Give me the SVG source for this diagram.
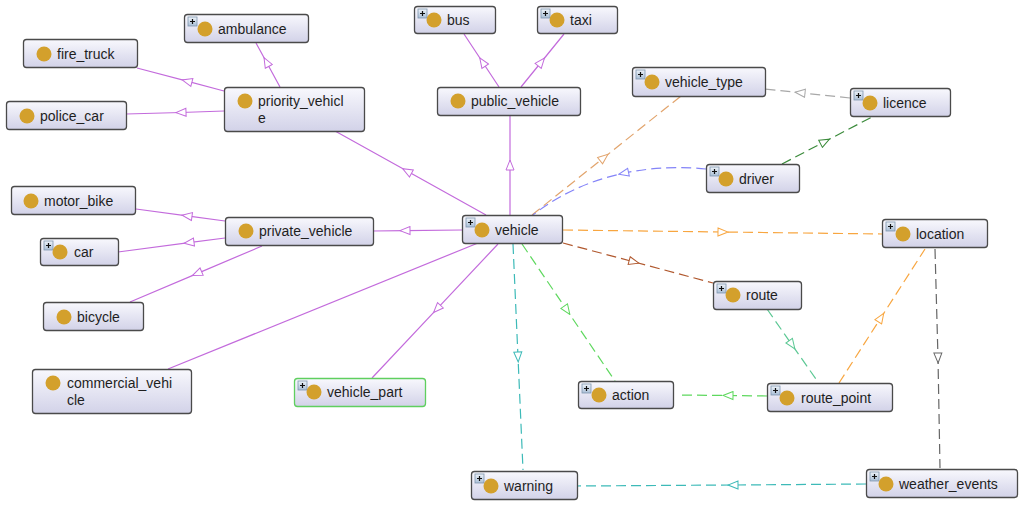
<svg xmlns="http://www.w3.org/2000/svg" width="1024" height="505" viewBox="0 0 1024 505">
<defs>
<linearGradient id="ng" x1="0" y1="0" x2="0" y2="1"><stop offset="0" stop-color="#f8f8fd"/><stop offset="1" stop-color="#d2d2e8"/></linearGradient>
<linearGradient id="pg" x1="0" y1="0" x2="0" y2="1"><stop offset="0" stop-color="#eef3f9"/><stop offset="1" stop-color="#a9bfd6"/></linearGradient>
<symbol id="plus" overflow="visible"><rect x="0" y="0" width="9" height="9" fill="url(#pg)" stroke="#7f97ae" stroke-width="0.8"/><path d="M2,4.5H7M4.5,2V7" stroke="#111" stroke-width="1.2"/></symbol>
<marker id="m-purple" viewBox="0 0 12 10" refX="6" refY="5" markerWidth="12" markerHeight="10" markerUnits="userSpaceOnUse" orient="auto"><path d="M1,1L11,5L1,9Z" fill="#fff" stroke="#c36bdc" stroke-width="1"/></marker>
<marker id="m-tan" viewBox="0 0 12 10" refX="6" refY="5" markerWidth="12" markerHeight="10" markerUnits="userSpaceOnUse" orient="auto"><path d="M1,1L11,5L1,9Z" fill="#fff" stroke="#e2a46c" stroke-width="1"/></marker>
<marker id="m-grey" viewBox="0 0 12 10" refX="6" refY="5" markerWidth="12" markerHeight="10" markerUnits="userSpaceOnUse" orient="auto"><path d="M1,1L11,5L1,9Z" fill="#fff" stroke="#a8a8a8" stroke-width="1"/></marker>
<marker id="m-dgreen" viewBox="0 0 12 10" refX="6" refY="5" markerWidth="12" markerHeight="10" markerUnits="userSpaceOnUse" orient="auto"><path d="M1,1L11,5L1,9Z" fill="#fff" stroke="#3a8a3a" stroke-width="1"/></marker>
<marker id="m-blue" viewBox="0 0 12 10" refX="6" refY="5" markerWidth="12" markerHeight="10" markerUnits="userSpaceOnUse" orient="auto"><path d="M1,1L11,5L1,9Z" fill="#fff" stroke="#8484f8" stroke-width="1"/></marker>
<marker id="m-orange" viewBox="0 0 12 10" refX="6" refY="5" markerWidth="12" markerHeight="10" markerUnits="userSpaceOnUse" orient="auto"><path d="M1,1L11,5L1,9Z" fill="#fff" stroke="#f8a640" stroke-width="1"/></marker>
<marker id="m-brown" viewBox="0 0 12 10" refX="6" refY="5" markerWidth="12" markerHeight="10" markerUnits="userSpaceOnUse" orient="auto"><path d="M1,1L11,5L1,9Z" fill="#fff" stroke="#b0582e" stroke-width="1"/></marker>
<marker id="m-lgreen" viewBox="0 0 12 10" refX="6" refY="5" markerWidth="12" markerHeight="10" markerUnits="userSpaceOnUse" orient="auto"><path d="M1,1L11,5L1,9Z" fill="#fff" stroke="#5ed85e" stroke-width="1"/></marker>
<marker id="m-teal" viewBox="0 0 12 10" refX="6" refY="5" markerWidth="12" markerHeight="10" markerUnits="userSpaceOnUse" orient="auto"><path d="M1,1L11,5L1,9Z" fill="#fff" stroke="#3dbab8" stroke-width="1"/></marker>
<marker id="m-sea" viewBox="0 0 12 10" refX="6" refY="5" markerWidth="12" markerHeight="10" markerUnits="userSpaceOnUse" orient="auto"><path d="M1,1L11,5L1,9Z" fill="#fff" stroke="#5cc894" stroke-width="1"/></marker>
<marker id="m-dgrey" viewBox="0 0 12 10" refX="6" refY="5" markerWidth="12" markerHeight="10" markerUnits="userSpaceOnUse" orient="auto"><path d="M1,1L11,5L1,9Z" fill="#fff" stroke="#666" stroke-width="1"/></marker>
</defs>
<style>
.box{fill:url(#ng);stroke:#4a4a4a;stroke-width:1.3}
.box.sel{stroke:#5fcf5f}
.dot{fill:#d3a02c}
text{font-family:"Liberation Sans",Arial,sans-serif;font-size:14px;fill:#1e1e1e}
.c{fill:none;stroke-width:1.2}
.sub{stroke:#c36bdc;marker-mid:url(#m-purple)}
.d{stroke-dasharray:10,5}
</style>
<rect width="1024" height="505" fill="#fff"/>
<g id="connectors">
<path class="c sub" d="M224,91L187,81.2L137,68"/>
<path class="c sub" d="M224,111L181,112.5L126,114"/>
<path class="c sub" d="M280,87L266.4,62L256,43"/>
<path class="c sub" d="M225,221L187,215.9L136,209"/>
<path class="c sub" d="M225,238L189,242.7L118,252"/>
<path class="c sub" d="M262,246L197,273.6L130,302"/>
<path class="c sub" d="M499,87L482.5,62L464,34"/>
<path class="c sub" d="M521,87L541.3,62L564,34"/>
<path class="c sub" d="M510,215L510,165L510,116"/>
<path class="c sub" d="M486,215L407,171.1L335,131"/>
<path class="c sub" d="M462,230L405,230.6L373,231"/>
<path class="c" stroke="#c36bdc" d="M478,243L168,369"/>
<path class="c sub" d="M498,244L437,308.9L372,378"/>
<path class="c d" stroke="#e2a46c" marker-mid="url(#m-tan)" d="M532,215L604,157.5L681,96"/>
<path class="c d" stroke="#a8a8a8" marker-mid="url(#m-grey)" d="M850,98L800,92.7L765,89"/>
<path class="c d" stroke="#3a8a3a" marker-mid="url(#m-dgreen)" d="M782,164L825,141.5L872,117"/>
<path class="c d" stroke="#8484f8" marker-mid="url(#m-blue)" d="M706,169C683,166.5 654,166.75 623.6,173.25C593.25,179.75 561.5,192.5 533,215"/>
<path class="c d" stroke="#f8a640" marker-mid="url(#m-orange)" d="M563,230L723,232L882,234"/>
<path class="c d" stroke="#b0582e" marker-mid="url(#m-brown)" d="M563,243L634,261.9L713,283"/>
<path class="c d" stroke="#5ed85e" marker-mid="url(#m-lgreen)" d="M522,244L567,310.3L615,381"/>
<path class="c d" stroke="#3dbab8" marker-mid="url(#m-teal)" d="M513,244L518,357L523,470"/>
<path class="c d" stroke="#5cc894" marker-mid="url(#m-sea)" d="M767,309L792,344.8L818,382"/>
<path class="c d" stroke="#f8a640" marker-mid="url(#m-orange)" d="M839,383L881,317.6L925,249"/>
<path class="c d" stroke="#666" marker-mid="url(#m-dgrey)" d="M935,249L938,358L940,468"/>
<path class="c d" stroke="#5ed85e" marker-mid="url(#m-lgreen)" d="M767,396L728,395.5L678,395"/>
<path class="c d" stroke="#3dbab8" marker-mid="url(#m-teal)" d="M866,484L733,485L577,486"/>
</g>
<g id="ambulance"><rect class="box" x="184.5" y="14.5" width="124" height="28" rx="3"/><use href="#plus" x="188" y="17"/><circle class="dot" cx="205" cy="29" r="7.5"/><text x="218" y="34">ambulance</text></g>
<g id="fire_truck"><rect class="box" x="23.5" y="39.5" width="114" height="28" rx="3"/><circle class="dot" cx="44" cy="54" r="7.5"/><text x="57" y="59">fire_truck</text></g>
<g id="police_car"><rect class="box" x="6.5" y="101.5" width="120" height="28" rx="3"/><circle class="dot" cx="27" cy="116" r="7.5"/><text x="40" y="121">police_car</text></g>
<g id="priority_vehicle"><rect class="box" x="224.5" y="87.5" width="140" height="44" rx="3"/><circle class="dot" cx="245" cy="101" r="7.5"/><text x="258" y="106">priority_vehicl</text><text x="258" y="123">e</text></g>
<g id="bus"><rect class="box" x="414.5" y="6.5" width="81" height="27" rx="3"/><use href="#plus" x="418" y="9"/><circle class="dot" cx="434" cy="20" r="7.5"/><text x="447" y="25">bus</text></g>
<g id="taxi"><rect class="box" x="537.5" y="6.5" width="80" height="27" rx="3"/><use href="#plus" x="541" y="9"/><circle class="dot" cx="557" cy="20" r="7.5"/><text x="570" y="25">taxi</text></g>
<g id="public_vehicle"><rect class="box" x="437.5" y="87.5" width="143" height="28" rx="3"/><circle class="dot" cx="458" cy="101" r="7.5"/><text x="471" y="106">public_vehicle</text></g>
<g id="vehicle_type"><rect class="box" x="632.5" y="67.5" width="133" height="29" rx="3"/><use href="#plus" x="636" y="70"/><circle class="dot" cx="652" cy="82" r="7.5"/><text x="665" y="87">vehicle_type</text></g>
<g id="licence"><rect class="box" x="850.5" y="88.5" width="100" height="28" rx="3"/><use href="#plus" x="854" y="91"/><circle class="dot" cx="870" cy="103" r="7.5"/><text x="883" y="108">licence</text></g>
<g id="driver"><rect class="box" x="706.5" y="164.5" width="93" height="28" rx="3"/><use href="#plus" x="710" y="167"/><circle class="dot" cx="726" cy="179" r="7.5"/><text x="739" y="184">driver</text></g>
<g id="motor_bike"><rect class="box" x="11.5" y="186.5" width="124" height="28" rx="3"/><circle class="dot" cx="31" cy="201" r="7.5"/><text x="44" y="206">motor_bike</text></g>
<g id="car"><rect class="box" x="40.5" y="238.5" width="78" height="27" rx="3"/><use href="#plus" x="44" y="241"/><circle class="dot" cx="60" cy="252" r="7.5"/><text x="74" y="257">car</text></g>
<g id="private_vehicle"><rect class="box" x="225.5" y="217.5" width="148" height="28" rx="3"/><circle class="dot" cx="246" cy="231" r="7.5"/><text x="259" y="236">private_vehicle</text></g>
<g id="vehicle"><rect class="box" x="462.5" y="215.5" width="100" height="28" rx="3"/><use href="#plus" x="466" y="218"/><circle class="dot" cx="482" cy="230" r="7.5"/><text x="495" y="235">vehicle</text></g>
<g id="location"><rect class="box" x="882.5" y="219.5" width="105" height="28" rx="3"/><use href="#plus" x="886" y="222"/><circle class="dot" cx="903" cy="234" r="7.5"/><text x="916" y="239">location</text></g>
<g id="route"><rect class="box" x="713.5" y="281.5" width="88" height="28" rx="3"/><use href="#plus" x="717" y="284"/><circle class="dot" cx="733" cy="295" r="7.5"/><text x="746" y="300">route</text></g>
<g id="bicycle"><rect class="box" x="43.5" y="302.5" width="100" height="28" rx="3"/><circle class="dot" cx="64" cy="317" r="7.5"/><text x="77" y="322">bicycle</text></g>
<g id="commercial_vehicle"><rect class="box" x="32.5" y="369.5" width="159" height="44" rx="3"/><circle class="dot" cx="53" cy="383" r="7.5"/><text x="67" y="388">commercial_vehi</text><text x="67" y="405">cle</text></g>
<g id="vehicle_part"><rect class="box sel" x="294.5" y="378.5" width="131" height="28" rx="3"/><use href="#plus" x="298" y="381"/><circle class="dot" cx="314" cy="392" r="7.5"/><text x="327" y="397">vehicle_part</text></g>
<g id="action"><rect class="box" x="578.5" y="381.5" width="95" height="27" rx="3"/><use href="#plus" x="582" y="384"/><circle class="dot" cx="599" cy="395" r="7.5"/><text x="612" y="400">action</text></g>
<g id="route_point"><rect class="box" x="767.5" y="383.5" width="125" height="28" rx="3"/><use href="#plus" x="771" y="386"/><circle class="dot" cx="787" cy="398" r="7.5"/><text x="801" y="403">route_point</text></g>
<g id="warning"><rect class="box" x="471.5" y="471.5" width="106" height="28" rx="3"/><use href="#plus" x="475" y="474"/><circle class="dot" cx="491" cy="486" r="7.5"/><text x="504" y="491">warning</text></g>
<g id="weather_events"><rect class="box" x="866.5" y="469.5" width="151" height="28" rx="3"/><use href="#plus" x="870" y="472"/><circle class="dot" cx="886" cy="484" r="7.5"/><text x="899" y="489">weather_events</text></g>
</svg>
